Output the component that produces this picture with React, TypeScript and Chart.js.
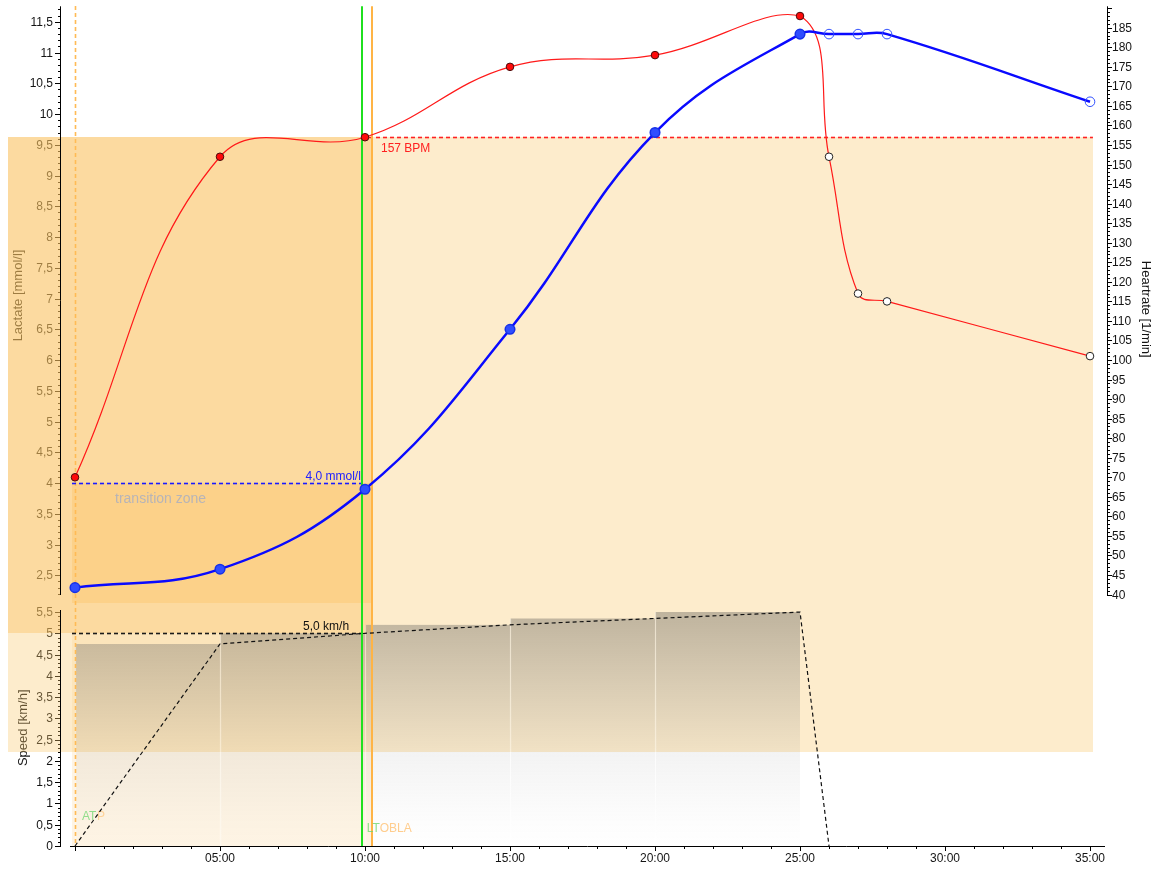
import React, { useEffect, useRef } from "react";
import { Chart, registerables } from "chart.js";

Chart.register(...registerables);

// Stage samples (minutes)
const stageTimes = [0, 5, 10, 15, 20, 25];
const lactateStages = [2.3, 2.6, 3.9, 6.5, 9.7, 11.3];
const heartRateStages = [70, 152, 157, 175, 178, 188];

// Recovery samples (minutes)
const recoveryTimes = [26, 27, 28, 35];
const lactateRecovery = [11.3, 11.3, 11.3, 10.2];
const heartRateRecovery = [152, 117, 115, 101];

// Treadmill speed per stage (km/h)
const stageStarts = [0, 5, 10, 15, 20];
const stageEnds = [5, 10, 15, 20, 25];
const stageSpeeds = [4.75, 5.0, 5.2, 5.35, 5.5];

// Speed ramp profile (km/h)
const rampTimes = [0, 5, 10, 15, 20, 25, 26];
const rampSpeeds = [0, 4.75, 5.0, 5.2, 5.35, 5.5, 0];

// Time axis labels
const timeTicks = [5, 10, 15, 20, 25, 30, 35];
const timeLabels = ["05:00", "10:00", "15:00", "20:00", "25:00", "30:00", "35:00"];

// Thresholds
const atTime = 0;
const ltTime = 9.89;
const oblaTime = 10.23;
const lactateThreshold = 4.0;
const heartRateThreshold = 157;
const speedThreshold = 5.0;

// Shaded zone bounds (axis values)
const zoneLeftTime = -2.31;
const zoneRightTime = 35.1;
const zoneStartTime = -0.12;
const zoneLowSpeed = 2.2;
const transitionLowLactate = 2.05;

// Axis ranges
const X_MIN = -0.517;
const X_MAX = 35.62;
const LAC_MIN = -1.901;
const LAC_MAX = 11.752;
const LAC_VISIBLE_MIN = 2.2;
const HR_MIN = -24.32;
const HR_MAX = 190.49;
const HR_VISIBLE_MIN = 40;
const SPD_MIN = 0;
const SPD_MAX = 19.742;
const SPD_VISIBLE_MAX = 5.55;

const FONT = '"Liberation Sans", Arial, Helvetica, sans-serif';
const f = (s: number) => `${s}px ${FONT}`;

const fmt = (v: number) =>
  Math.abs(v - Math.round(v)) < 1e-9 ? String(Math.round(v)) : v.toFixed(1).replace(".", ",");

// Axis-aligned dashed line made of filled segments
const DASH_W = 1.6;
function dashH(ctx: any, x0: number, x1: number, y: number, color: string, dash = 4, gap = 3) {
  ctx.fillStyle = color;
  const yy = Math.round(y) + 0.5 - DASH_W / 2;
  for (let x = Math.round(x0); x < x1; x += dash + gap) {
    ctx.fillRect(x, yy, Math.min(dash, x1 - x), DASH_W);
  }
}
function dashV(ctx: any, x: number, y0: number, y1: number, color: string, dash = 4, gap = 3) {
  ctx.fillStyle = color;
  const xx = Math.round(x) + 0.5 - DASH_W / 2;
  for (let y = Math.round(y0); y < y1; y += dash + gap) {
    ctx.fillRect(xx, y, DASH_W, Math.min(dash, y1 - y));
  }
}

function drawAxisText(chart: any) {
  const { ctx, scales, chartArea } = chart;
  const yL = scales.yLac, yH = scales.yHR, yS = scales.ySpd, x = scales.x;
  const left = chartArea.left, right = chartArea.right, bottom = chartArea.bottom;
  ctx.save();
  ctx.strokeStyle = "#000";
  ctx.fillStyle = "#141414";
  ctx.lineWidth = 1;
  ctx.font = f(12);

  // Lactate ticks
  ctx.textAlign = "right";
  ctx.textBaseline = "middle";
  for (let i = Math.ceil(LAC_VISIBLE_MIN * 10); i <= Math.floor(LAC_MAX * 10); i++) {
    const v = i / 10;
    const py = Math.round(yL.getPixelForValue(v)) + 0.5;
    const major = i % 5 === 0;
    ctx.beginPath();
    ctx.moveTo(left - (major ? 5 : 2), py);
    ctx.lineTo(left, py);
    ctx.stroke();
    if (major) ctx.fillText(fmt(v), left - 7, py);
  }
  // Speed ticks
  for (let i = 0; i <= Math.floor(SPD_VISIBLE_MAX * 10); i++) {
    const v = i / 10;
    const py = Math.round(yS.getPixelForValue(v)) + 0.5;
    const major = i % 5 === 0;
    ctx.beginPath();
    ctx.moveTo(left - (major ? 5 : 2), py);
    ctx.lineTo(left, py);
    ctx.stroke();
    if (major) ctx.fillText(fmt(v), left - 7, py);
  }
  // Heart rate ticks
  ctx.textAlign = "left";
  for (let v = HR_VISIBLE_MIN; v <= Math.floor(HR_MAX); v++) {
    const py = Math.round(yH.getPixelForValue(v)) + 0.5;
    const major = v % 5 === 0;
    ctx.beginPath();
    ctx.moveTo(right, py);
    ctx.lineTo(right + (major ? 4 : 2), py);
    ctx.stroke();
    if (major && v <= 185) ctx.fillText(String(v), right + 4, py + 0.5);
  }
  // Time ticks
  for (let m = 0; m <= 35; m++) {
    const px = Math.round(x.getPixelForValue(m)) + 0.5;
    const major = m % 5 === 0;
    ctx.beginPath();
    ctx.moveTo(px, bottom);
    ctx.lineTo(px, bottom + (major ? 5 : 3));
    ctx.stroke();
  }
  ctx.textAlign = "center";
  ctx.textBaseline = "top";
  timeTicks.forEach((t, i) => {
    ctx.fillText(timeLabels[i], x.getPixelForValue(t), bottom + 7);
  });

  // Axis titles
  ctx.font = f(13);
  ctx.textAlign = "center";
  ctx.textBaseline = "middle";
  ctx.save();
  ctx.translate(18, yL.getPixelForValue(7.05));
  ctx.rotate(-Math.PI / 2);
  ctx.fillText("Lactate [mmol/l]", 0, 0);
  ctx.restore();
  ctx.save();
  ctx.translate(23, yS.getPixelForValue(2.78));
  ctx.rotate(-Math.PI / 2);
  ctx.fillText("Speed [km/h]", 0, 0);
  ctx.restore();
  ctx.save();
  ctx.translate(right + 38, yH.getPixelForValue(113));
  ctx.rotate(Math.PI / 2);
  ctx.fillText("Heartrate [1/min]", 0, 0);
  ctx.restore();
  ctx.restore();
}

function fillBox(ctx: any, x0: number, x1: number, y0: number, y1: number, color: string) {
  const l = Math.round(Math.min(x0, x1));
  const r = Math.round(Math.max(x0, x1));
  const t = Math.round(Math.min(y0, y1));
  const b = Math.round(Math.max(y0, y1));
  ctx.fillStyle = color;
  ctx.fillRect(l, t, r - l, b - t);
}

function drawZones(chart: any) {
  const { ctx, scales } = chart;
  const xp = (v: number) => scales.x.getPixelForValue(v);
  const lp = (v: number) => scales.yLac.getPixelForValue(v);
  const hp = (v: number) => scales.yHR.getPixelForValue(v);
  const sp = (v: number) => scales.ySpd.getPixelForValue(v);
  ctx.save();
  fillBox(ctx, xp(zoneLeftTime), xp(zoneRightTime), hp(heartRateThreshold), sp(zoneLowSpeed), "rgba(249,200,110,0.35)");
  fillBox(ctx, xp(zoneLeftTime), xp(oblaTime), hp(heartRateThreshold), sp(speedThreshold), "rgba(250,190,90,0.39)");
  fillBox(ctx, xp(zoneStartTime), xp(oblaTime), lp(lactateThreshold), lp(transitionLowLactate), "rgba(250,185,80,0.28)");
  fillBox(ctx, xp(zoneStartTime), xp(oblaTime), sp(speedThreshold), sp(0), "rgba(250,200,120,0.2)");
  ctx.restore();
}

function drawAxisLines(chart: any) {
  const { ctx, scales, chartArea } = chart;
  const left = chartArea.left + 0.5;
  const right = chartArea.right - 0.5;
  const bottom = chartArea.bottom + 0.5;
  ctx.save();
  ctx.strokeStyle = "#000";
  ctx.lineWidth = 1;
  ctx.beginPath();
  ctx.moveTo(left, chartArea.top);
  ctx.lineTo(left, Math.round(scales.yLac.getPixelForValue(LAC_VISIBLE_MIN)) + 1);
  ctx.moveTo(left, Math.round(scales.ySpd.getPixelForValue(SPD_VISIBLE_MAX)));
  ctx.lineTo(left, bottom + 0.5);
  ctx.moveTo(right, chartArea.top);
  ctx.lineTo(right, Math.round(scales.yHR.getPixelForValue(HR_VISIBLE_MIN)) + 1);
  ctx.moveTo(Math.round(scales.x.getPixelForValue(-0.17)), bottom);
  ctx.lineTo(Math.round(scales.x.getPixelForValue(35.5)), bottom);
  ctx.stroke();

  // zone caption
  ctx.font = f(14);
  ctx.fillStyle = "rgba(170,175,192,0.85)";
  ctx.textAlign = "left";
  ctx.textBaseline = "middle";
  ctx.fillText("transition zone", scales.x.getPixelForValue(1.38), scales.yLac.getPixelForValue(3.74));
  ctx.restore();
}

function drawMarkers(chart: any) {
  const { ctx, scales, chartArea } = chart;
  const xp = (v: number) => scales.x.getPixelForValue(v);
  const lp = (v: number) => scales.yLac.getPixelForValue(v);
  const hp = (v: number) => scales.yHR.getPixelForValue(v);
  const sp = (v: number) => scales.ySpd.getPixelForValue(v);
  ctx.save();

  // start marker (dashed)
  dashV(ctx, xp(atTime), chartArea.top, chartArea.bottom, "#ffbb55", 4, 3);

  // threshold reference lines
  const ly = lp(lactateThreshold);
  const hy = hp(heartRateThreshold);
  const sy = sp(speedThreshold);
  dashH(ctx, xp(zoneStartTime), xp(ltTime), ly, "#1a1aff", 4, 3);
  dashH(ctx, xp(10) + 4, xp(zoneRightTime), hy, "#ff2222", 4, 3);
  dashH(ctx, xp(zoneStartTime), xp(10), sy, "#1a1a1a", 4, 3);

  // threshold vertical lines
  ctx.lineWidth = 2;
  ctx.strokeStyle = "#1fe01f";
  ctx.beginPath();
  ctx.moveTo(Math.round(xp(ltTime)), chartArea.top);
  ctx.lineTo(Math.round(xp(ltTime)), chartArea.bottom);
  ctx.stroke();
  ctx.strokeStyle = "#ffb445";
  ctx.beginPath();
  ctx.moveTo(Math.round(xp(oblaTime)), chartArea.top);
  ctx.lineTo(Math.round(xp(oblaTime)), chartArea.bottom);
  ctx.stroke();

  // labels
  ctx.font = f(12);
  ctx.textBaseline = "alphabetic";
  ctx.textAlign = "right";
  ctx.fillStyle = "#2020ff";
  ctx.fillText("4,0 mmol/l", xp(ltTime) - 1, ly - 3);
  ctx.fillStyle = "#111";
  ctx.fillText("5,0 km/h", xp(9.45), sy - 3);
  ctx.textAlign = "left";
  ctx.textBaseline = "top";
  ctx.fillStyle = "#ff2020";
  ctx.fillText("157 BPM", xp(10.55), hy + 5);

  ctx.textBaseline = "middle";
  const bottomY = sp(0.68);
  ctx.fillStyle = "rgba(110,215,110,0.75)";
  ctx.fillText("AT", xp(atTime) + 7, bottomY);
  ctx.fillStyle = "rgba(255,205,140,0.85)";
  ctx.fillText("P", xp(atTime) + 22, bottomY);
  const ltY = sp(0.4);
  ctx.fillStyle = "rgba(255,200,130,0.9)";
  ctx.fillText("OBLA", xp(oblaTime) + 8, ltY);
  ctx.fillStyle = "rgba(110,215,110,0.8)";
  ctx.fillText("LT", xp(ltTime) + 5, ltY);
  ctx.restore();
}

const overlayPlugin = {
  id: "lactateOverlay",
  beforeDatasetsDraw(chart: any) {
    drawAxisText(chart);
    drawZones(chart);
    drawAxisLines(chart);
  },
  afterDatasetDraw(chart: any, args: any) {
    if (args.index === 0) drawMarkers(chart);
  },
};

export default function App() {
  const ref = useRef<HTMLCanvasElement | null>(null);

  useEffect(() => {
    if (!ref.current) return;
    const nStage = stageTimes.length;
    const heartRateData = [
      ...stageTimes.map((t, i) => ({ x: t, y: heartRateStages[i] })),
      ...recoveryTimes.map((t, i) => ({ x: t, y: heartRateRecovery[i] })),
    ];
    const lactateData = [
      ...stageTimes.map((t, i) => ({ x: t, y: lactateStages[i] })),
      ...recoveryTimes.map((t, i) => ({ x: t, y: lactateRecovery[i] })),
    ];
    const barData = stageStarts.map((s, i) => ({ x: (s + stageEnds[i]) / 2, y: stageSpeeds[i] }));
    const rampData = rampTimes.map((t, i) => ({ x: t, y: rampSpeeds[i] }));

    const barFill = (context: any) => {
      const chart = context.chart;
      if (!chart.chartArea) return "rgba(120,115,105,0.3)";
      const yS = chart.scales.ySpd;
      const top = yS.getPixelForValue(SPD_VISIBLE_MAX);
      const bottom = yS.getPixelForValue(0);
      const g = chart.ctx.createLinearGradient(0, top, 0, bottom);
      g.addColorStop(0, "rgba(120,115,105,0.47)");
      g.addColorStop(0.6, "rgba(120,120,120,0.09)");
      g.addColorStop(0.88, "rgba(120,120,120,0.02)");
      g.addColorStop(1, "rgba(120,120,120,0)");
      return g;
    };

    const chart = new Chart(ref.current, {
      type: "line",
      data: {
        datasets: [
          {
            type: "bar",
            label: "Stage speed",
            data: barData,
            yAxisID: "ySpd",
            backgroundColor: barFill,
            borderColor: "rgba(255,255,255,0.35)",
            borderWidth: { left: 1, top: 0, right: 0, bottom: 0 },
            borderSkipped: false,
            barPercentage: 1,
            categoryPercentage: 1,
            order: 10,
          } as any,
          {
            type: "line",
            label: "Speed",
            data: rampData,
            yAxisID: "ySpd",
            borderColor: "#111",
            borderWidth: 1.2,
            borderDash: [4, 3],
            pointRadius: 0,
            tension: 0,
            fill: false,
            order: 9,
          },
          {
            type: "line",
            label: "Heartrate",
            data: heartRateData,
            yAxisID: "yHR",
            borderColor: "#ff1a1a",
            borderWidth: 1.2,
            tension: 0.4,
            fill: false,
            pointRadius: 3.8,
            pointBorderWidth: 1,
            pointBackgroundColor: heartRateData.map((_, i) => (i < nStage ? "#ff0a0a" : "#ffffff")),
            pointBorderColor: heartRateData.map((_, i) => (i < nStage ? "#4a0a0a" : "#222222")),
            order: 2,
          },
          {
            type: "line",
            label: "Lactate",
            data: lactateData,
            yAxisID: "yLac",
            borderColor: "#0a0aff",
            borderWidth: 2.5,
            tension: 0.4,
            fill: false,
            pointRadius: 4.8,
            pointBorderWidth: lactateData.map((_, i) => (i < nStage ? 1.5 : 1)),
            pointBackgroundColor: lactateData.map((_, i) => (i < nStage ? "#2f4dff" : "rgba(0,0,0,0)")),
            pointBorderColor: lactateData.map((_, i) => (i < nStage ? "#1530e8" : "#3050ff")),
            order: 1,
          },
        ],
      },
      options: {
        responsive: false,
        animation: false,
        devicePixelRatio: 1,
        layout: { padding: { left: 60, right: 52, top: 5, bottom: 25 } },
        plugins: { legend: { display: false }, tooltip: { enabled: false } },
        scales: {
          x: {
            type: "linear",
            display: false,
            offset: false,
            min: X_MIN,
            max: X_MAX,
            ticks: { stepSize: 5, includeBounds: false },
          },
          yLac: { type: "linear", display: false, position: "left", min: LAC_MIN, max: LAC_MAX },
          yHR: { type: "linear", display: false, position: "right", min: HR_MIN, max: HR_MAX },
          ySpd: { type: "linear", display: false, position: "left", min: SPD_MIN, max: SPD_MAX },
        },
      } as any,
      plugins: [overlayPlugin],
    });
    return () => chart.destroy();
  }, []);

  return (
    <div style={{ position: "absolute", left: 0, top: 0, width: 1160, height: 871, background: "#ffffff" }}>
      <canvas ref={ref} width={1160} height={871} style={{ display: "block", width: 1160, height: 871 }} />
    </div>
  );
}
